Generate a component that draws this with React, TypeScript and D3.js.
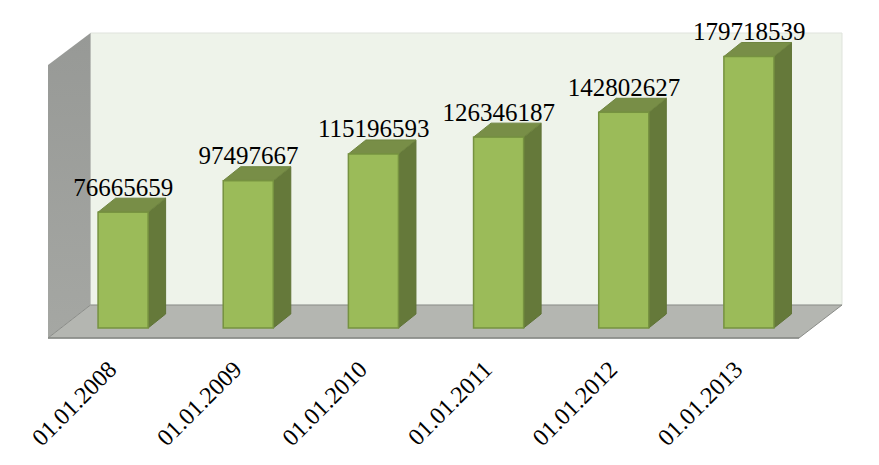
import React from "react";
import * as d3 from "d3";

const categories = ["01.01.2008", "01.01.2009", "01.01.2010", "01.01.2011", "01.01.2012", "01.01.2013"];
const values = [76665659, 97497667, 115196593, 126346187, 142802627, 179718539];

const W = 879, H = 465;
const floorFrontY = 338, floorBackY = 305, wallTop = 33;
const leftFront = 48, leftBack = 90.5, rightBack = 842, rightFront = 799;
const dx = 17.5, dy = -14;
const baseY = 328;

const x = d3.scaleBand<string>().domain(categories).range([60.5, 811.5]).paddingInner(0.6).paddingOuter(0.3);
const y = d3.scaleLinear().domain([0, 179718539]).range([baseY, 56.5]);

const pts = (p: number[][]) => p.map((q) => q.join(",")).join(" ");

export default function App() {
  return (
    <svg width={W} height={H} viewBox={`0 0 ${W} ${H}`} style={{ position: "absolute", left: 0, top: 0, background: "#fff" }}
      fontFamily="'Liberation Serif', serif">
      <defs>
        <linearGradient id="wallL" x1="0" y1="0" x2="0" y2="1">
          <stop offset="0" stopColor="#979996" />
          <stop offset="1" stopColor="#a5a7a3" />
        </linearGradient>
      </defs>
      <polygon points={pts([[leftBack, wallTop], [rightBack, wallTop], [rightBack, floorBackY], [leftBack, floorBackY]])}
        fill="#eef3ea" stroke="#dfe3dc" strokeWidth={1} />
      <polygon points={pts([[leftFront, 65], [leftBack, wallTop], [leftBack, floorBackY], [leftFront, floorFrontY]])}
        fill="url(#wallL)" />
      <polygon points={pts([[leftFront, floorFrontY], [leftBack, floorBackY], [rightBack, floorBackY], [rightFront, floorFrontY]])}
        fill="#b4b6b1" />
      <polyline points={pts([[leftFront, floorFrontY], [leftBack, floorBackY], [rightBack, floorBackY], [rightFront, floorFrontY], [leftFront, floorFrontY]])}
        fill="none" stroke="#8a8c88" strokeWidth={1} />
      <line x1={leftFront} y1={floorFrontY} x2={rightFront} y2={floorFrontY} stroke="#8a8c88" strokeWidth={1.5} />
      {categories.map((c, i) => {
        const x0 = x(c)!;
        const x1 = x0 + x.bandwidth();
        const top = y(values[i]);
        return (
          <g key={c}>
            <polygon points={pts([[x1, top], [x1 + dx, top + dy], [x1 + dx, baseY + dy], [x1, baseY]])}
              fill="#65793a" stroke="#5f7336" strokeWidth={1} />
            <polygon points={pts([[x0, top], [x0 + dx, top + dy], [x1 + dx, top + dy], [x1, top]])}
              fill="#788e47" stroke="#6f8540" strokeWidth={1} />
            <rect x={x0} y={top} width={x.bandwidth()} height={baseY - top}
              fill="#9bbb59" stroke="#769240" strokeWidth={1.5} />
            <text x={(x0 + x1) / 2 + 0.25} y={top + dy - 2.5} textAnchor="middle" fontSize={25} fill="#000">{values[i]}</text>
            <text transform={`translate(${x0 + 20},${371}) rotate(-45)`} textAnchor="end" fontSize={24} fill="#000">{c}</text>
          </g>
        );
      })}
    </svg>
  );
}
